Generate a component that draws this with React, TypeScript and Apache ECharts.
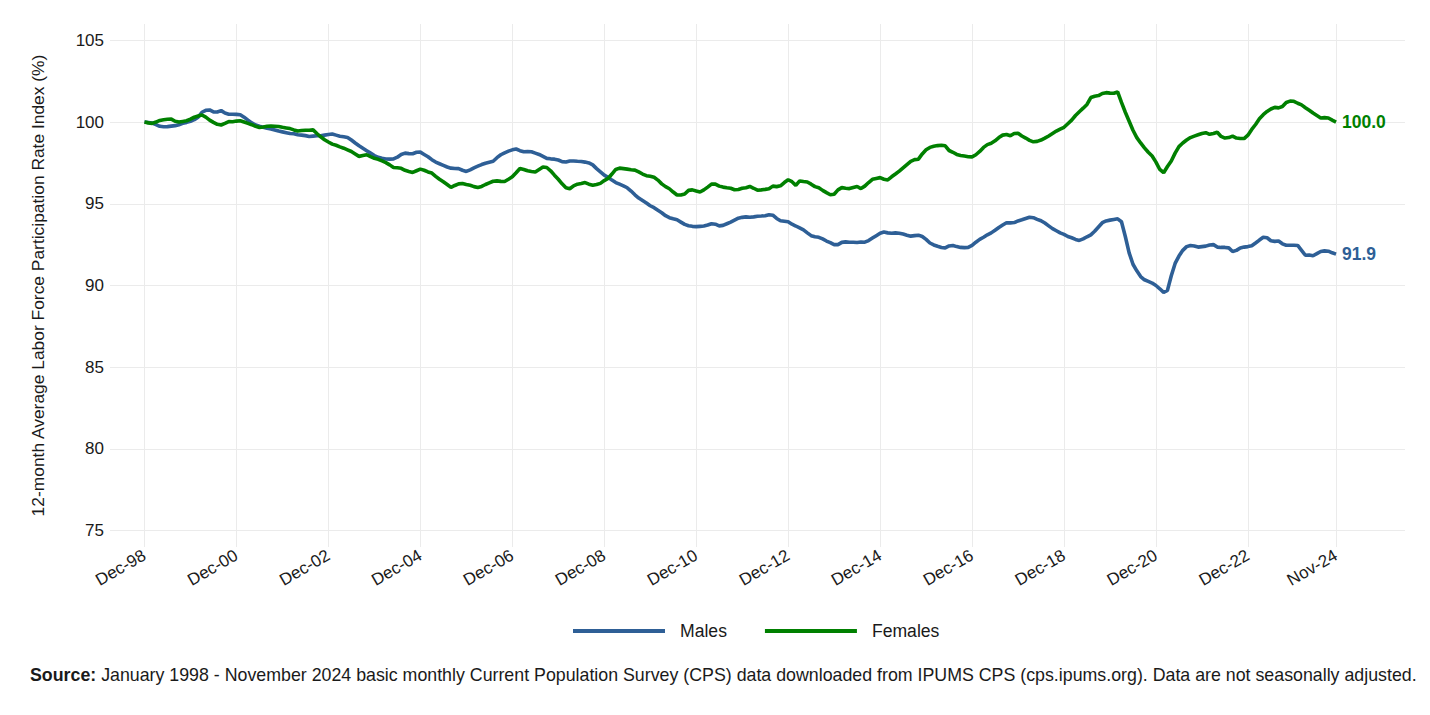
import React, { useEffect, useRef } from "react";
import * as echarts from "echarts";

// ---- data (monthly, Dec-98 .. Nov-24) ----
const males: number[] = [
  100.0, 99.97, 99.94, 99.85, 99.74, 99.71, 99.72, 99.75, 99.78, 99.84, 99.92, 99.98,
  100.05, 100.15, 100.3, 100.6, 100.72, 100.74, 100.62, 100.62, 100.7, 100.55, 100.48, 100.48,
  100.47, 100.45, 100.3, 100.12, 99.95, 99.82, 99.74, 99.68, 99.62, 99.58, 99.52, 99.45,
  99.4, 99.35, 99.3, 99.28, 99.22, 99.2, 99.17, 99.12, 99.14, 99.16, 99.16, 99.2,
  99.24, 99.27, 99.2, 99.13, 99.1, 99.06, 98.9, 98.72, 98.55, 98.4, 98.25, 98.1,
  97.95, 97.84, 97.78, 97.74, 97.73, 97.75, 97.85, 98.02, 98.1, 98.07, 98.06, 98.15,
  98.16, 98.02, 97.88, 97.7, 97.55, 97.45, 97.35, 97.25, 97.18, 97.16, 97.15, 97.05,
  96.98, 97.08, 97.2, 97.3, 97.4, 97.48, 97.54, 97.6, 97.82, 98.0, 98.12, 98.22,
  98.3, 98.35, 98.25, 98.18, 98.2, 98.18, 98.1, 98.02, 97.9, 97.78, 97.75, 97.73,
  97.68, 97.58, 97.56, 97.62, 97.62, 97.6, 97.59, 97.55, 97.5, 97.38, 97.15, 96.95,
  96.75, 96.62, 96.45, 96.3, 96.2, 96.1, 95.98, 95.78, 95.55, 95.35, 95.2, 95.05,
  94.88, 94.76, 94.6, 94.45, 94.27, 94.15, 94.08, 94.02, 93.88, 93.74, 93.66, 93.62,
  93.6, 93.62, 93.64, 93.7, 93.78, 93.75, 93.65, 93.68, 93.78, 93.88, 94.0, 94.12,
  94.17, 94.2, 94.18, 94.2, 94.24, 94.25, 94.27, 94.33, 94.3, 94.1, 93.96, 93.93,
  93.9, 93.75, 93.64, 93.52, 93.4, 93.22, 93.05, 92.98, 92.95, 92.85, 92.72, 92.62,
  92.5, 92.5, 92.64, 92.67, 92.65, 92.65, 92.63, 92.66, 92.65, 92.75, 92.9, 93.05,
  93.2, 93.27, 93.22, 93.2, 93.22, 93.2, 93.15, 93.08, 93.02, 93.05, 93.08, 93.0,
  92.82, 92.6, 92.48, 92.4, 92.33, 92.3, 92.42, 92.45, 92.38, 92.33, 92.32, 92.33,
  92.45, 92.65, 92.82, 92.95, 93.1, 93.22, 93.38, 93.55, 93.7, 93.84, 93.83, 93.85,
  93.95, 94.02, 94.1, 94.18, 94.15, 94.05, 93.96, 93.82, 93.65, 93.48, 93.35, 93.22,
  93.13, 93.0, 92.92, 92.82, 92.76, 92.85, 92.98, 93.1, 93.32, 93.58, 93.84, 93.95,
  94.0, 94.04, 94.08, 93.9, 93.0, 92.0, 91.3, 90.9, 90.55, 90.35, 90.25, 90.15,
  90.0, 89.8, 89.58, 89.7, 90.6, 91.35, 91.8, 92.15, 92.38, 92.45, 92.42, 92.35,
  92.38, 92.41, 92.48, 92.5, 92.35, 92.33, 92.33, 92.3, 92.08, 92.15, 92.3, 92.35,
  92.38, 92.43, 92.6, 92.78, 92.95, 92.92, 92.74, 92.7, 92.72, 92.55, 92.46, 92.46,
  92.46, 92.45, 92.15, 91.85, 91.86, 91.82, 91.95, 92.08, 92.12, 92.1, 92.0, 91.92,
];

const females: number[] = [
  100.0, 99.95, 99.92, 100.0, 100.1, 100.14, 100.17, 100.18, 100.05, 100.0, 100.04, 100.08,
  100.18, 100.3, 100.37, 100.43, 100.3, 100.12, 99.98, 99.86, 99.82, 99.92, 100.03, 100.02,
  100.06, 100.08, 100.0, 99.92, 99.84, 99.74, 99.67, 99.7, 99.74, 99.75, 99.74, 99.73,
  99.68, 99.64, 99.6, 99.52, 99.45, 99.48, 99.5, 99.5, 99.52, 99.3, 99.1, 98.92,
  98.78, 98.65, 98.58, 98.48, 98.4, 98.3, 98.2, 98.05, 97.9, 97.95, 98.0, 97.88,
  97.78, 97.72, 97.62, 97.52, 97.38, 97.22, 97.2, 97.17, 97.05, 96.98, 96.92, 97.02,
  97.12, 97.05, 96.95, 96.88, 96.68, 96.5, 96.35, 96.18, 96.0, 96.12, 96.22, 96.24,
  96.18, 96.13, 96.05, 96.0, 96.06, 96.18, 96.28, 96.38, 96.4, 96.37, 96.36, 96.5,
  96.65, 96.9, 97.16, 97.1, 97.02, 96.98, 96.95, 97.1, 97.25, 97.22, 97.02, 96.75,
  96.5, 96.22, 95.98, 95.92, 96.1, 96.2, 96.24, 96.3, 96.2, 96.14, 96.18, 96.25,
  96.42, 96.55, 96.82, 97.1, 97.18, 97.15, 97.12, 97.08, 97.06, 96.95, 96.82, 96.72,
  96.68, 96.62, 96.45, 96.22, 96.05, 95.92, 95.72, 95.54, 95.54, 95.6, 95.82, 95.85,
  95.78, 95.72, 95.85, 96.02, 96.2, 96.2, 96.08, 96.02, 95.98, 95.95, 95.86, 95.87,
  95.95, 95.98, 96.06, 95.95, 95.83, 95.85, 95.88, 95.92, 96.08, 96.05, 96.1, 96.3,
  96.47, 96.35, 96.13, 96.4, 96.36, 96.33, 96.2, 96.05, 95.98, 95.82, 95.68, 95.55,
  95.58, 95.85, 95.99, 95.95, 95.93, 96.0, 96.06, 95.93, 96.08, 96.3, 96.5, 96.55,
  96.6, 96.5, 96.46, 96.65, 96.82, 97.0, 97.2, 97.4, 97.6, 97.7, 97.73, 98.05,
  98.3, 98.45, 98.52, 98.56, 98.58, 98.55, 98.26, 98.15, 98.02, 97.96, 97.92, 97.88,
  97.87, 98.0, 98.2, 98.45, 98.62, 98.7, 98.85, 99.05, 99.2, 99.24, 99.16, 99.3,
  99.32, 99.15, 99.02, 98.88, 98.79, 98.82, 98.9, 99.02, 99.15, 99.3, 99.45, 99.57,
  99.68, 99.9, 100.12, 100.4, 100.63, 100.85, 101.08, 101.5, 101.58, 101.62, 101.75, 101.8,
  101.77, 101.76, 101.84, 101.2, 100.6, 100.05, 99.5, 99.05, 98.72, 98.42, 98.15, 97.92,
  97.55, 97.1, 96.9, 97.28, 97.62, 98.1, 98.5, 98.72, 98.9, 99.05, 99.14, 99.22,
  99.3, 99.35, 99.25, 99.3, 99.38, 99.12, 99.02, 99.05, 99.14, 99.02, 98.99, 98.99,
  99.2, 99.55, 99.85, 100.2, 100.45, 100.65, 100.8, 100.9, 100.87, 100.95, 101.2, 101.28,
  101.27, 101.15, 101.05, 100.88, 100.72, 100.55, 100.4, 100.25, 100.27, 100.25, 100.12, 100.0,
];

const xTickLabels = [
  "Dec-98", "Dec-00", "Dec-02", "Dec-04", "Dec-06", "Dec-08", "Dec-10",
  "Dec-12", "Dec-14", "Dec-16", "Dec-18", "Dec-20", "Dec-22", "Nov-24",
];
const yTicks = [75, 80, 85, 90, 95, 100, 105];
const seriesNames = ["Males", "Females"];
const seriesColors = ["#2e5f96", "#008000"];

const MONTHS = ["Jan", "Feb", "Mar", "Apr", "May", "Jun", "Jul", "Aug", "Sep", "Oct", "Nov", "Dec"];
const PAD_BEFORE = 9;
const PAD_AFTER = 18;

function buildCategories(n: number): string[] {
  const out: string[] = [];
  // first data month is Dec 1998
  for (let i = -PAD_BEFORE; i < n + PAD_AFTER; i++) {
    const total = 1998 * 12 + 11 + i;
    const y = Math.floor(total / 12);
    const m = total % 12;
    out.push(`${MONTHS[m]}-${String(y % 100).padStart(2, "0")}`);
  }
  return out;
}

function pad(arr: number[]): (number | null)[] {
  return [
    ...new Array(PAD_BEFORE).fill(null),
    ...arr,
    ...new Array(PAD_AFTER).fill(null),
  ];
}

const FONT = "'Liberation Sans', Arial, Helvetica, sans-serif";
const TXT = "#1a1a1a";

export default function App() {
  const ref = useRef<HTMLDivElement>(null);

  useEffect(() => {
    if (!ref.current) return;
    const chart = echarts.init(ref.current, undefined, { renderer: "svg" });
    const categories = buildCategories(males.length);
    const showTick = (_idx: number, val: string) => xTickLabels.includes(val);

    const mkSeries = (name: string, data: number[], color: string) => ({
      name,
      type: "line",
      data: pad(data),
      showSymbol: false,
      symbol: "none",
      connectNulls: false,
      lineStyle: { color, width: 3.6 },
      itemStyle: { color },
      endLabel: {
        show: true,
        formatter: (p: any) => Number(Array.isArray(p.value) ? p.value[1] : p.value).toFixed(1),
        color,
        fontWeight: "bold",
        fontSize: 17.5,
        fontFamily: FONT,
        distance: 6,
      },
    });

    chart.setOption({
      animation: false,
      backgroundColor: "#ffffff",
      textStyle: { fontFamily: FONT },
      grid: { left: 110, right: 25, top: 24, height: 523 },
      legend: {
        data: seriesNames,
        left: 573,
        top: 622,
        icon: "rect",
        itemWidth: 92,
        itemHeight: 4,
        itemGap: 38,
        padding: 0,
        textStyle: { fontSize: 17.6, color: TXT, fontFamily: FONT, padding: [0, 0, 0, 10] },
      },
      xAxis: {
        type: "category",
        data: categories,
        boundaryGap: false,
        axisLine: { show: false },
        axisTick: { show: false },
        axisLabel: {
          interval: showTick,
          rotate: 30,
          margin: 7,
          fontSize: 17,
          color: TXT,
          fontFamily: FONT,
        },
        splitLine: {
          show: true,
          interval: showTick,
          lineStyle: { color: "#ebebeb", width: 1 },
        },
      },
      yAxis: {
        type: "value",
        min: 74,
        max: 106,
        name: "12-month Average Labor Force Participation Rate Index (%)",
        nameLocation: "middle",
        nameGap: 64,
        nameTextStyle: { fontSize: 17.4, color: TXT, fontFamily: FONT },
        axisLine: { show: false },
        axisTick: { show: false, customValues: yTicks },
        axisLabel: {
          customValues: yTicks,
          fontSize: 17,
          color: TXT,
          margin: 6,
          fontFamily: FONT,
        },
        splitLine: { show: true, lineStyle: { color: "#ebebeb", width: 1 } },
      },
      series: [
        mkSeries(seriesNames[0], males, seriesColors[0]),
        mkSeries(seriesNames[1], females, seriesColors[1]),
      ],
      graphic: [
        {
          type: "text",
          left: 30,
          top: 666,
          style: {
            text: "{b|Source:} January 1998 - November 2024 basic monthly Current Population Survey (CPS) data downloaded from IPUMS CPS (cps.ipums.org). Data are not seasonally adjusted.",
            fontSize: 17.8,
            fontFamily: FONT,
            fill: TXT,
            rich: {
              b: { fontWeight: "bold", fontSize: 17.8, fontFamily: FONT, fill: TXT },
            },
          },
        },
      ],
    });

    return () => chart.dispose();
  }, []);

  return <div ref={ref} style={{ width: 1430, height: 715, margin: -8 }} />;
}
